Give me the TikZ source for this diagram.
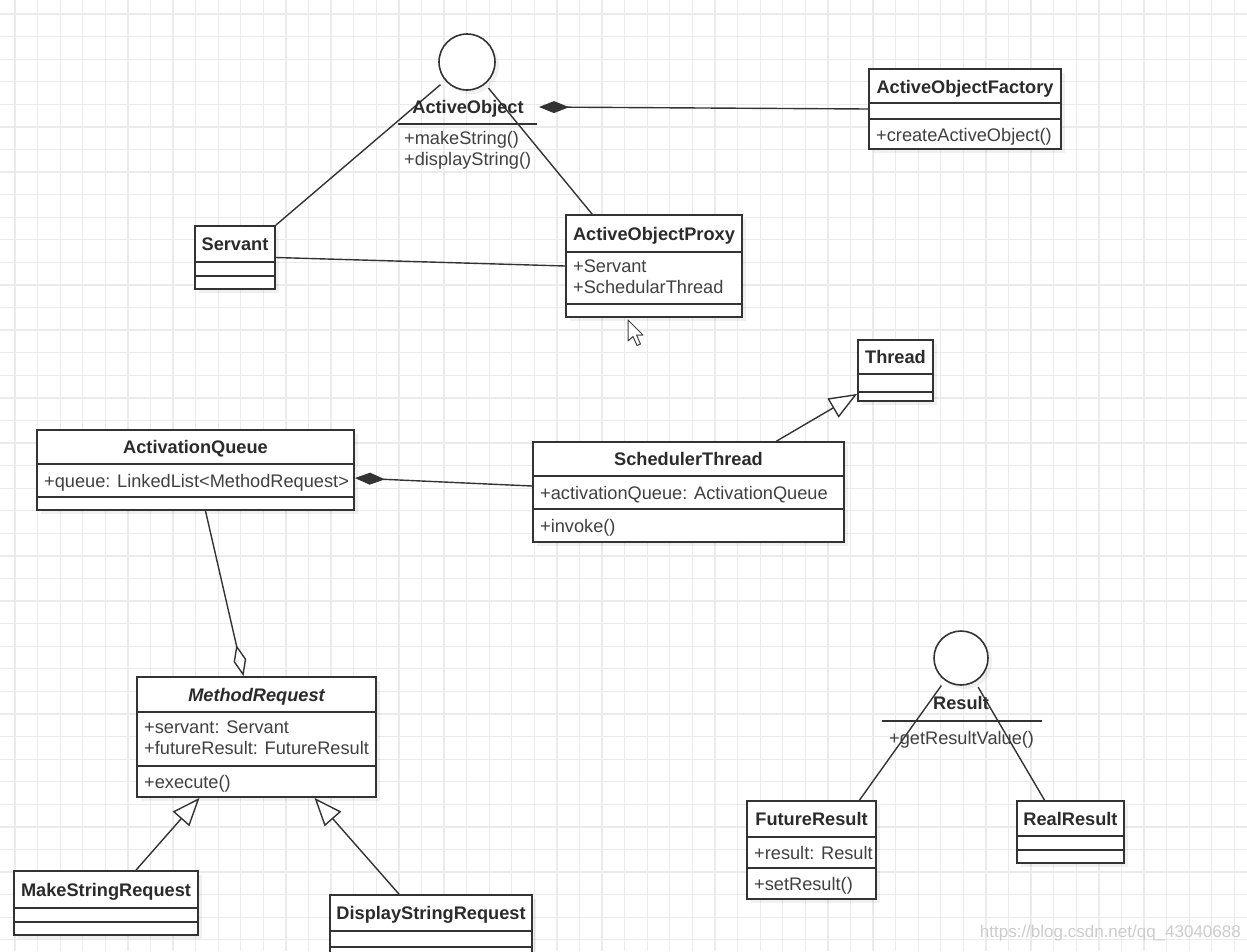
\documentclass[tikz,border=0pt]{standalone}
\usepackage{fontspec}
\setmainfont{Liberation Sans}
\usetikzlibrary{arrows.meta,shadows,fit}
\definecolor{linec}{HTML}{333333}
\definecolor{txtc}{HTML}{2B2B2B}
\definecolor{gridc}{HTML}{EBEBEB}
\definecolor{wmc}{HTML}{CCCCCC}
\newcommand\fs{\fontsize{18.2}{21}\selectfont}
\tikzset{
  shd/.style={drop shadow={shadow xshift=4pt, shadow yshift=-4pt, opacity=0.06, fill=black}},
  cls/.style={draw=linec, line width=1.8pt, fill=white, inner sep=0pt, shd},
  iface/.style={circle, draw=linec, line width=1.6pt, fill=white, minimum size=56pt, inner sep=0pt, shd},
  sep/.style={draw=linec, line width=1.6pt},
  ttl/.style={anchor=base, font=\fs\bfseries, text=txtc, inner sep=0pt},
  att/.style={anchor=base west, font=\fs, text=txtc!90, inner sep=0pt},
  conn/.style={draw=linec, line width=1.4pt},
  gen/.style={conn, -{Triangle[open, fill=white, length=28pt, width=22pt]}},
  comp/.style={conn, -{Diamond[length=30pt, width=12pt]}},
  aggr/.style={conn, -{Diamond[open, fill=white, length=32pt, width=13pt]}},
}
% name, x1, y1, x2, y2, separator ys
\newcommand\umlclass[6]{%
  \node[cls, fit={(#2,#3) (#4,#5)}] (#1) {};
  \foreach \yy in {#6} {\draw[sep] (#2,\yy) -- (#4,\yy);}%
}
\begin{document}
\begin{tikzpicture}[x=1pt,y=-1pt]
\useasboundingbox (0,0) rectangle (1247,951);
\clip (0,0) rectangle (1247,951);
\fill[white] (0,0) rectangle (1247,951);
% grid
\foreach \i in {0,...,55} \draw[gridc, line width=1.3pt] (15+22.58*\i,0) -- (15+22.58*\i,951);
\foreach \j in {0,...,42} \draw[gridc, line width=1.3pt] (0,14+22.58*\j) -- (1247,14+22.58*\j);

% classes
\umlclass{fact}{869}{69}{1061}{149}{103,119}
\umlclass{serv}{195}{226}{275}{289}{262,276}
\umlclass{proxy}{566}{215}{742}{317}{252,304}
\umlclass{thread}{858}{340}{933}{401}{374,392}
\umlclass{sched}{533}{442}{844}{542}{476,509}
\umlclass{queue}{37}{430}{354}{510}{464,497}
\umlclass{mr}{137}{677}{376}{797}{712,766}
\umlclass{ms}{14}{871}{198}{935}{908,922}
\umlclass{ds}{330}{895}{532}{975}{931,947}
\umlclass{fut}{747}{801}{876}{899}{837,868}
\umlclass{real}{1017}{801}{1124}{863}{836,850}

% interfaces
\node[iface] (aobj) at (467,62) {};
\node[iface, minimum size=54pt] (res) at (961,658) {};
\coordinate (aoport) at (539,107);

% connectors
\draw[conn, shorten >=6pt] (serv.north east) -- (aobj);
\draw[conn, shorten >=5pt] ([xshift=27pt]proxy.north west) -- (aobj);
\draw[conn] (serv.east) -- (proxy.west);
\draw[comp] (fact.west) -- (aoport);
\draw[comp] ([yshift=6pt]sched.west) -- ([yshift=-8pt]queue.east);
\draw[aggr] ([xshift=10pt]queue.south) -- ([xshift=-13pt]mr.north);
\draw[gen] ([xshift=88pt]sched.north) -- ([yshift=8pt]thread.south west);
\draw[gen] ([xshift=30pt]ms.north) -- ([xshift=-57pt]mr.south);
\draw[gen] ([xshift=-32pt]ds.north) -- ([xshift=58pt]mr.south);
\draw[conn, shorten >=6pt] ([xshift=48pt]fut.north) -- (res);
\draw[conn, shorten >=6pt] ([xshift=-26pt]real.north) -- (res);

% interface bodies
\node[ttl] (aobj-n) at (468,113.5) {ActiveObject};
\draw[sep] (398,124) -- (537,124);
\node[att] (aobj-o1) at (404,144.5) {+makeString()};
\node[att] (aobj-o2) at (404,165.5) {+displayString()};
\node[ttl] (res-n) at (961,709.5) {Result};
\draw[sep] (882,721) -- (1042,721);
\node[att] (res-o1) at (889,744.5) {+getResultValue()};

% class texts
\node[ttl] (fact-n) at (965,93) {ActiveObjectFactory};
\node[att] (fact-o1) at (876,141) {+createActiveObject()};
\node[ttl] (serv-n) at (235,250.5) {Servant};
\node[ttl] (proxy-n) at (654,240) {ActiveObjectProxy};
\node[att] (proxy-a1) at (573,272.5) {+Servant};
\node[att] (proxy-a2) at (573,293.5) {+SchedularThread};
\node[ttl] (thread-n) at (895.5,363.5) {Thread};
\node[ttl] (sched-n) at (688.5,465.5) {SchedulerThread};
\node[att] (sched-a1) at (540,499) {+activationQueue: ActivationQueue};
\node[att] (sched-o1) at (540,532) {+invoke()};
\node[ttl] (queue-n) at (195.5,453.5) {ActivationQueue};
\node[att] (queue-a1) at (44,487) {+queue: LinkedList<MethodRequest>};
\node[ttl, font=\fs\bfseries\itshape] (mr-n) at (256.5,701) {MethodRequest};
\node[att] (mr-a1) at (144,733.5) {+servant: Servant};
\node[att] (mr-a2) at (144,754.5) {+futureResult: FutureResult};
\node[att] (mr-o1) at (144,788) {+execute()};
\node[ttl] (ms-n) at (106,896) {MakeStringRequest};
\node[ttl] (ds-n) at (431,919.5) {DisplayStringRequest};
\node[ttl] (fut-n) at (811.5,825.5) {FutureResult};
\node[att] (fut-a1) at (754,859) {+result: Result};
\node[att] (fut-o1) at (754,890) {+setResult()};
\node[ttl] (real-n) at (1070.5,825) {RealResult};

% mouse cursor
\draw[fill=white, draw=black!75, line width=1pt, line join=round]
  (628,320) -- (628,341) -- (633,336.5) -- (637,345.5) -- (640.5,344) -- (636.5,335) -- (643,335) -- cycle;

% watermark
\node[anchor=base east, font=\fontsize{17}{20}\selectfont, text=wmc, inner sep=0pt] (wm) at (1241,937) {https://blog.csdn.net/qq\_43040688};
\end{tikzpicture}
\end{document}
